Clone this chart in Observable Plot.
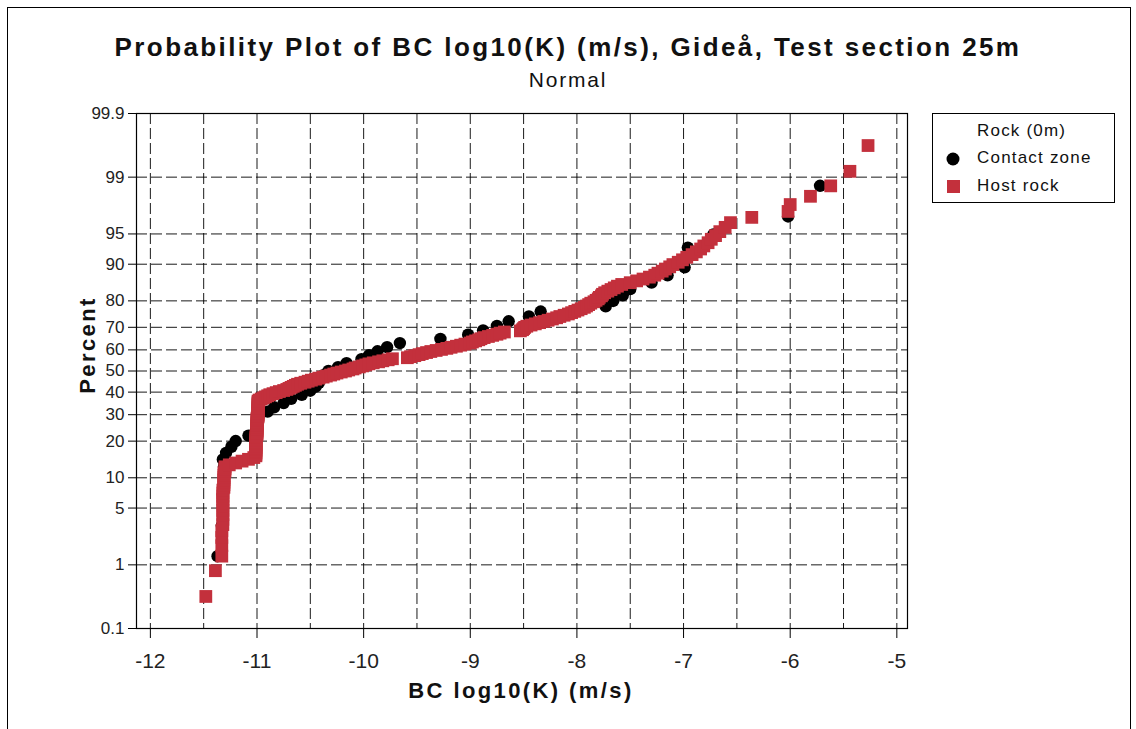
<!DOCTYPE html>
<html><head><meta charset="utf-8">
<script src="https://cdn.jsdelivr.net/npm/d3@7"></script>
<script src="https://cdn.jsdelivr.net/npm/@observablehq/plot@0.6"></script>
<style>
body{margin:0;background:#fff;font-family:"Liberation Sans",Arial,sans-serif;color:#111;}
#wrap{position:relative;width:1136px;height:729px;overflow:hidden;background:#fff;}
#border{position:absolute;left:7px;top:7px;width:1122px;height:760px;border:1px solid #000;}
#chart{position:absolute;left:0;top:0;}
.t{position:absolute;white-space:nowrap;transform:translate(-50%,-50%);}
#title{left:568px;top:47px;font:bold 26px "Liberation Sans",Arial,sans-serif;letter-spacing:2.4px;}
#subtitle{left:568px;top:80px;font:21px "Liberation Sans",Arial,sans-serif;letter-spacing:1.8px;}
#xlabel{left:521px;top:691px;font:bold 22px "Liberation Sans",Arial,sans-serif;letter-spacing:2.4px;}
#ylabel{left:88px;top:345px;font:bold 22px "Liberation Sans",Arial,sans-serif;letter-spacing:2.4px;transform:translate(-50%,-50%) rotate(-90deg);}
#legend{position:absolute;left:932px;top:113px;width:181px;height:88px;border:1px solid #000;font:17px "Liberation Sans",Arial,sans-serif;letter-spacing:1.2px;}
#legend .row{position:absolute;left:44px;white-space:nowrap;transform:translateY(-50%);}
#legend svg{position:absolute;left:0;top:0;}
</style></head><body>
<div id="wrap">
<div id="border"></div>
<div id="chart"></div>
<div class="t" id="title"></div>
<div class="t" id="subtitle"></div>
<div class="t" id="xlabel"></div>
<div class="t" id="ylabel"></div>
<div id="legend"></div>
</div>
<script>
// ---- text ----
const titleText = "Probability Plot of BC log10(K) (m/s), Gideå, Test section 25m";
const subtitleText = "Normal";
const xLabelText = "BC log10(K) (m/s)";
const yLabelText = "Percent";
const legendTitle = "Rock (0m)";
const seriesNames = ["Contact zone", "Host rock"];
const seriesColors = ["#000000", "#c3303c"];

// ---- axis ticks ----
const xTicks = [-12, -11, -10, -9, -8, -7, -6, -5];
const xGridTicks = [-12, -11.5, -11, -10.5, -10, -9.5, -9, -8.5, -8, -7.5, -7, -6.5, -6, -5.5, -5];
const yTickPercents = [0.1, 1, 5, 10, 20, 30, 40, 50, 60, 70, 80, 90, 95, 99, 99.9];
const yTickLabels = ["0.1", "1", "5", "10", "20", "30", "40", "50", "60", "70", "80", "90", "95", "99", "99.9"];

// ---- data: sorted log10(K) values ----
const contactX = [
 -11.37, -11.33, -11.32, -11.32, -11.31, -11.31, -11.31, -11.32, -11.29, -11.24,
 -11.20, -11.08, -11.01, -11.00, -11.00, -10.99, -10.90, -10.84, -10.75, -10.68,
 -10.58, -10.50, -10.45, -10.42, -10.40, -10.37, -10.33, -10.24, -10.16, -10.02,
 -9.95, -9.87, -9.78, -9.66, -9.28, -9.02, -8.88, -8.75, -8.64, -8.45,
 -8.34, -7.73, -7.66, -7.57, -7.50, -7.30, -7.15, -6.99, -6.97, -6.96,
 -6.72, -6.02, -5.72
];
const hostX = [
 -11.48, -11.39,
 -11.33, -11.33, -11.33, -11.33, -11.32, -11.32, -11.32, -11.32, -11.32, -11.32, -11.32, -11.32,
 -11.32, -11.32, -11.31, -11.31, -11.31, -11.31, -11.31, -11.31, -11.31, -11.30, -11.30, -11.30,
 -11.26, -11.20, -11.14, -11.08, -11.03,
 -11.01, -11.01, -11.01, -11.01, -11.01, -11.01, -11.01, -11.01, -11.01, -11.01, -11.01, -11.01, -11.01, -11.01,
 -11.00, -11.00, -11.00, -11.00, -11.00, -11.00, -11.00, -11.00, -11.00, -11.00, -11.00, -11.00, -11.00, -11.00,
 -10.99, -10.99, -10.99, -10.99, -10.99, -10.99, -10.99, -10.99, -10.99, -10.99, -10.99, -10.99, -10.99, -10.99,
 -10.99, -10.98,
 -10.96, -10.94, -10.92, -10.90, -10.88,
 -10.85, -10.82, -10.79, -10.75, -10.72,
 -10.70, -10.68, -10.66, -10.64, -10.62,
 -10.59, -10.55, -10.52, -10.49, -10.45,
 -10.42, -10.38, -10.35, -10.31, -10.28,
 -10.25, -10.21, -10.17, -10.14, -10.10,
 -10.08, -10.04, -10.01, -9.98, -9.95,
 -9.91, -9.86, -9.82, -9.77, -9.73,
 -9.59, -9.56, -9.52, -9.48, -9.45,
 -9.41, -9.37, -9.32, -9.27, -9.22,
 -9.18, -9.13, -9.09, -9.05, -9.00,
 -8.98, -8.95, -8.92, -8.90, -8.87,
 -8.83, -8.79, -8.75, -8.72, -8.68,
 -8.53, -8.51, -8.50, -8.49, -8.47,
 -8.43, -8.39, -8.35, -8.31, -8.27,
 -8.23, -8.19, -8.16, -8.12, -8.08,
 -8.05, -8.02, -7.99, -7.96, -7.93,
 -7.91, -7.89, -7.87, -7.84, -7.82,
 -7.80, -7.79, -7.77, -7.76, -7.74,
 -7.71, -7.68, -7.65, -7.62, -7.58,
 -7.50, -7.44, -7.38, -7.32, -7.27,
 -7.24, -7.20, -7.17, -7.13, -7.10,
 -7.05, -7.01, -6.97, -6.92, -6.88,
 -6.84, -6.81, -6.77, -6.74, -6.70,
 -6.66, -6.61, -6.56,
 -6.36, -6.02, -6.00, -5.81, -5.62, -5.44, -5.27
];

// ---- normal probability scale (inverse normal CDF, Acklam) ----
function probit(p) {
  const a = [-3.969683028665376e+01, 2.209460984245205e+02, -2.759285104469687e+02, 1.383577518672690e+02, -3.066479806614716e+01, 2.506628277459239e+00];
  const b = [-5.447609879822406e+01, 1.615858368580409e+02, -1.556989798598866e+02, 6.680131188771972e+01, -1.328068155288572e+01];
  const c = [-7.784894002430293e-03, -3.223964580411365e-01, -2.400758277161838e+00, -2.549732539343734e+00, 4.374664141464968e+00, 2.938163982698783e+00];
  const d = [7.784695709041462e-03, 3.224671290700398e-01, 2.445134137142996e+00, 3.754408661907416e+00];
  const pl = 0.02425, ph = 1 - pl;
  let q, r;
  if (p < pl) { q = Math.sqrt(-2 * Math.log(p)); return (((((c[0]*q+c[1])*q+c[2])*q+c[3])*q+c[4])*q+c[5]) / ((((d[0]*q+d[1])*q+d[2])*q+d[3])*q+1); }
  if (p > ph) { q = Math.sqrt(-2 * Math.log(1 - p)); return -(((((c[0]*q+c[1])*q+c[2])*q+c[3])*q+c[4])*q+c[5]) / ((((d[0]*q+d[1])*q+d[2])*q+d[3])*q+1); }
  q = p - 0.5; r = q * q;
  return (((((a[0]*r+a[1])*r+a[2])*r+a[3])*r+a[4])*r+a[5])*q / (((((b[0]*r+b[1])*r+b[2])*r+b[3])*r+b[4])*r+1);
}

// plotting positions (median ranks) as in a normal probability plot
function toPoints(xs, group) {
  const n = xs.length;
  return xs.map((x, i) => ({x, group, pct: (i + 1 - 0.3) / (n + 0.4) * 100}));
}
const contact = toPoints(contactX, seriesNames[0]);
const host = toPoints(hostX, seriesNames[1]);

const zTicks = yTickPercents.map(p => probit(p / 100));
const zLabel = new Map(zTicks.map((z, i) => [z, yTickLabels[i]]));
const zMax = probit(0.999);

const chart = Plot.plot({
  width: 1136, height: 729,
  marginLeft: 136, marginRight: 229, marginTop: 113, marginBottom: 101,
  style: {fontFamily: "'Liberation Sans', Arial, sans-serif", color: "#222", background: "transparent"},
  x: {domain: [-12.13, -4.9]},
  y: {domain: [-zMax, zMax]},
  marks: [
    Plot.gridX(xGridTicks, {stroke: "#000", strokeOpacity: 0.9, strokeDasharray: "11,4"}),
    Plot.gridY(zTicks, {stroke: "#000", strokeOpacity: 0.9, strokeDasharray: "11,4"}),
    Plot.frame({stroke: "#000", strokeWidth: 1.2}),
    Plot.axisX(xTicks, {tickSize: 10, tickPadding: 15, fontSize: 21, tickFormat: d => String(d), label: null, stroke: "#000", letterSpacing: 3}),
    Plot.axisY(zTicks, {tickSize: 8, tickPadding: 4, fontSize: 17, tickFormat: d => zLabel.get(d), label: null, stroke: "#000", letterSpacing: 0.5}),
    Plot.dot(contact, {x: "x", y: d => probit(d.pct / 100), r: 6.2, fill: seriesColors[0], stroke: null, symbol: "circle"}),
    Plot.dot(host, {x: "x", y: d => probit(d.pct / 100), r: 7.2, fill: seriesColors[1], stroke: null, symbol: "square"})
  ]
});
document.getElementById("chart").appendChild(chart);

document.getElementById("title").textContent = titleText;
document.getElementById("subtitle").textContent = subtitleText;
document.getElementById("xlabel").textContent = xLabelText;
document.getElementById("ylabel").textContent = yLabelText;

// legend
const lg = document.getElementById("legend");
lg.innerHTML =
  `<svg width="181" height="88">
     <circle cx="20" cy="45" r="6.5" fill="${seriesColors[0]}"/>
     <rect x="14" y="66" width="13" height="13" fill="${seriesColors[1]}"/>
   </svg>
   <div class="row" style="top:17px">${legendTitle}</div>
   <div class="row" style="top:44px">${seriesNames[0]}</div>
   <div class="row" style="top:72px">${seriesNames[1]}</div>`;
</script>
</body></html>
